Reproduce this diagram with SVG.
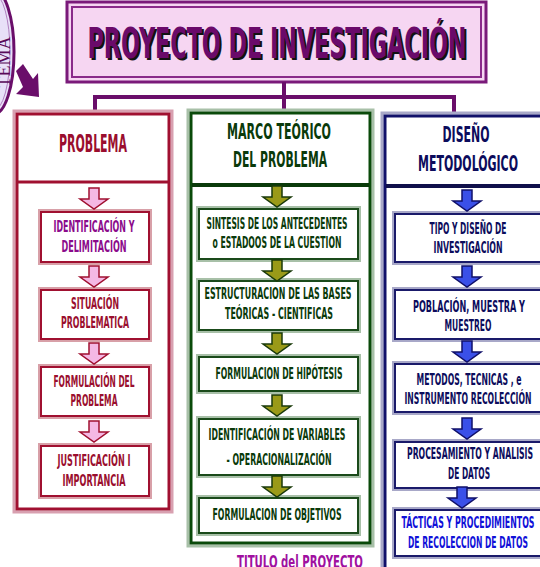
<svg xmlns="http://www.w3.org/2000/svg" width="540" height="567" viewBox="0 0 540 567">
<defs>
<style>
.t{font-family:"DejaVu Sans Condensed","DejaVu Sans",sans-serif;font-weight:bold;text-anchor:middle}
.s{font-size:16px}
.h{font-size:24px}
.red{fill:#9a0e2e}
.pur{fill:#8b0a8b}
.grn{fill:#0a3a0a}
.nav{fill:#0c0c5c}
.blu{fill:#1010d8}
.conn{stroke:#6a0e6a;stroke-width:4;fill:none}
.ibR{fill:#fff;stroke:#a01030;stroke-width:2}
.ibRo{fill:none;stroke:#d8a0a8;stroke-width:2}
.ibG{fill:#fff;stroke:#1a4a1a;stroke-width:2}
.ibGo{fill:none;stroke:#a8c0a8;stroke-width:2}
.ibB{fill:#fff;stroke:#1a1a6a;stroke-width:2}
.ibBo{fill:none;stroke:#a8a8c8;stroke-width:2}
.aR{fill:#f4b8e4;stroke:#a01030;stroke-width:1.5}
.aG{fill:#9a9a18;stroke:#1a3a0a;stroke-width:1.5}
.aB{fill:#3a50e8;stroke:#10106a;stroke-width:1.5}
</style>
<path id="arr" d="M-5,0 H5 V11 H14 L0,21 L-14,11 H-5 Z"/>
</defs>

<g id="tema">
<ellipse cx="-6" cy="52" rx="20" ry="62" fill="#e8e0f8" stroke="#6a0e6a" stroke-width="3"/>
<ellipse cx="-6" cy="52" rx="16" ry="58" fill="none" stroke="#b080c0" stroke-width="1"/>
<text transform="translate(10,62) rotate(-90)" font-family="Liberation Serif,serif" font-size="18" fill="#5a0a5a" text-anchor="middle">TEMA</text>
<polygon points="16,71 23,64 33,79 38,73 39,97 16,94 23,87" fill="#6a0e6a"/>
</g>

<g id="titulo">
<rect x="67" y="2" width="419" height="80" fill="#f6d6f2" stroke="#7a1a7a" stroke-width="3"/>
<rect x="72" y="7" width="409" height="70" fill="none" stroke="#8a2a8a" stroke-width="2"/>
<text x="279" y="60" class="t" font-size="42" fill="#111" textLength="379" lengthAdjust="spacingAndGlyphs">PROYECTO DE INVESTIGACIÓN</text>
<text x="277" y="58" class="t" font-size="42" fill="#6a0a6a" textLength="379" lengthAdjust="spacingAndGlyphs">PROYECTO DE INVESTIGACIÓN</text>
</g>

<g id="connectors">
<path class="conn" d="M284,82 V97 M95,97 H454 M95,95 V113 M284,97 V116 M454,95 V116"/>
</g>

<g id="problema">
<rect x="14" y="111" width="158" height="401" fill="#fff" stroke="#d8a0b0" stroke-width="3"/>
<rect x="17" y="114" width="152" height="395" fill="none" stroke="#a01030" stroke-width="3"/>
<line x1="18" y1="182" x2="168" y2="182" stroke="#a01030" stroke-width="3"/>
<text x="93" y="152" class="t h red" textLength="68" lengthAdjust="spacingAndGlyphs">PROBLEMA</text>
</g>
<g id="p1">
<rect x="39" y="210" width="112" height="54" class="ibRo"/><rect x="41" y="212" width="108" height="50" class="ibR"/>
<text x="94" y="232" class="t s pur" textLength="81" lengthAdjust="spacingAndGlyphs">IDENTIFICACIÓN Y</text>
<text x="94" y="252" class="t s pur" textLength="65" lengthAdjust="spacingAndGlyphs">DELIMITACIÓN</text>
</g>
<g id="p2">
<rect x="39" y="288" width="112" height="53" class="ibRo"/><rect x="41" y="290" width="108" height="49" class="ibR"/>
<text x="95" y="309" class="t s red" textLength="48" lengthAdjust="spacingAndGlyphs">SITUACIÓN</text>
<text x="95" y="328" class="t s red" textLength="68" lengthAdjust="spacingAndGlyphs">PROBLEMATICA</text>
</g>
<g id="p3">
<rect x="39" y="365" width="112" height="53" class="ibRo"/><rect x="41" y="367" width="108" height="49" class="ibR"/>
<text x="94" y="387" class="t s red" textLength="81" lengthAdjust="spacingAndGlyphs">FORMULACIÓN DEL</text>
<text x="94" y="406" class="t s red" textLength="47" lengthAdjust="spacingAndGlyphs">PROBLEMA</text>
</g>
<g id="p4">
<rect x="39" y="444" width="112" height="54" class="ibRo"/><rect x="41" y="446" width="108" height="50" class="ibR"/>
<text x="94" y="466" class="t s red" textLength="73" lengthAdjust="spacingAndGlyphs">JUSTIFICACIÓN I</text>
<text x="94" y="486" class="t s red" textLength="63" lengthAdjust="spacingAndGlyphs">IMPORTANCIA</text>
</g>
<g id="arrows-problema">
<use href="#arr" x="94" y="188" class="aR"/>
<use href="#arr" x="94" y="266" class="aR"/>
<use href="#arr" x="94" y="343" class="aR"/>
<use href="#arr" x="94" y="421" class="aR"/>
</g>

<g id="marco">
<rect x="188" y="110" width="185" height="436" fill="#fff" stroke="#a8c0a8" stroke-width="3"/>
<rect x="191" y="113" width="179" height="430" fill="none" stroke="#0a4a0a" stroke-width="3"/>
<line x1="192" y1="185" x2="369" y2="185" stroke="#0a3a0a" stroke-width="4"/>
<text x="279" y="139" class="t grn" font-size="21" textLength="104" lengthAdjust="spacingAndGlyphs">MARCO TEÓRICO</text>
<text x="280" y="167" class="t grn" font-size="21" textLength="94" lengthAdjust="spacingAndGlyphs">DEL PROBLEMA</text>
</g>
<g id="m1">
<rect x="197" y="207" width="163" height="54" class="ibGo"/><rect x="199" y="209" width="159" height="50" class="ibG"/>
<text x="277" y="229" class="t s grn" textLength="141" lengthAdjust="spacingAndGlyphs">SINTESIS DE LOS ANTECEDENTES</text>
<text x="277" y="248" class="t s grn" textLength="129" lengthAdjust="spacingAndGlyphs">o ESTADOOS DE LA CUESTION</text>
</g>
<g id="m2">
<rect x="197" y="279" width="163" height="53" class="ibGo"/><rect x="199" y="281" width="159" height="49" class="ibG"/>
<text x="278" y="299" class="t s grn" textLength="147" lengthAdjust="spacingAndGlyphs">ESTRUCTURACION  DE LAS BASES</text>
<text x="279" y="319" class="t s grn" textLength="108" lengthAdjust="spacingAndGlyphs">TEÓRICAS - CIENTIFICAS</text>
</g>
<g id="m3">
<rect x="197" y="355" width="163" height="38" class="ibGo"/><rect x="199" y="357" width="159" height="34" class="ibG"/>
<text x="279" y="379" class="t s grn" textLength="127" lengthAdjust="spacingAndGlyphs">FORMULACION DE HIPÓTESIS</text>
</g>
<g id="m4">
<rect x="197" y="417" width="163" height="60" class="ibGo"/><rect x="199" y="419" width="159" height="56" class="ibG"/>
<text x="277" y="440" class="t s grn" textLength="137" lengthAdjust="spacingAndGlyphs">IDENTIFICACIÓN DE VARIABLES</text>
<text x="279" y="465" class="t s grn" textLength="105" lengthAdjust="spacingAndGlyphs">- OPERACIONALIZACIÓN</text>
</g>
<g id="m5">
<rect x="197" y="496" width="163" height="39" class="ibGo"/><rect x="199" y="498" width="159" height="35" class="ibG"/>
<text x="277" y="520" class="t s grn" textLength="129" lengthAdjust="spacingAndGlyphs">FORMULACION DE OBJETIVOS</text>
</g>
<g id="arrows-marco">
<use href="#arr" x="277" y="186" class="aG"/>
<use href="#arr" x="277" y="260" class="aG"/>
<use href="#arr" x="277" y="333" class="aG"/>
<use href="#arr" x="277" y="395" class="aG"/>
<use href="#arr" x="277" y="476" class="aG"/>
</g>
<g id="titulo-proyecto">
<text x="300" y="568" class="t" font-size="17" textLength="126" lengthAdjust="spacingAndGlyphs" fill="#a010a0">TITULO del PROYECTO</text>
</g>

<g id="diseno">
<rect x="382" y="113" width="165" height="470" fill="#fff" stroke="#a8a8c8" stroke-width="3"/>
<rect x="385" y="116" width="159" height="464" fill="none" stroke="#10106a" stroke-width="3"/>
<line x1="386" y1="186" x2="544" y2="186" stroke="#10104a" stroke-width="4"/>
<text x="466" y="142" class="t nav" font-size="21" textLength="47" lengthAdjust="spacingAndGlyphs">DISEÑO</text>
<text x="468" y="171" class="t nav" font-size="21" textLength="100" lengthAdjust="spacingAndGlyphs">METODOLÓGICO</text>
</g>
<g id="d1">
<rect x="393" y="212" width="150" height="52" class="ibBo"/><rect x="395" y="214" width="150" height="48" class="ibB"/>
<text x="468" y="234" class="t s nav" textLength="77" lengthAdjust="spacingAndGlyphs">TIPO Y DISEÑO DE</text>
<text x="468" y="253" class="t s nav" textLength="69" lengthAdjust="spacingAndGlyphs">INVESTIGACIÓN</text>
</g>
<g id="d2">
<rect x="393" y="288" width="150" height="53" class="ibBo"/><rect x="395" y="290" width="150" height="49" class="ibB"/>
<text x="469" y="312" class="t s nav" textLength="112" lengthAdjust="spacingAndGlyphs">POBLACIÓN, MUESTRA  Y</text>
<text x="468" y="331" class="t s nav" textLength="47" lengthAdjust="spacingAndGlyphs">MUESTREO</text>
</g>
<g id="d3">
<rect x="393" y="362" width="150" height="52" class="ibBo"/><rect x="395" y="364" width="150" height="48" class="ibB"/>
<text x="469" y="385" class="t s nav" textLength="105" lengthAdjust="spacingAndGlyphs">METODOS, TECNICAS , e</text>
<text x="468" y="404" class="t s nav" textLength="127" lengthAdjust="spacingAndGlyphs">INSTRUMENTO RECOLECCIÓN</text>
</g>
<g id="d4">
<rect x="393" y="440" width="150" height="50" class="ibBo"/><rect x="395" y="442" width="150" height="46" class="ibB"/>
<text x="470" y="459" class="t s nav" textLength="126" lengthAdjust="spacingAndGlyphs">PROCESAMIENTO Y ANALISIS</text>
<text x="469" y="479" class="t s nav" textLength="42" lengthAdjust="spacingAndGlyphs">DE DATOS</text>
</g>
<g id="d5">
<rect x="393" y="508" width="150" height="50" class="ibBo"/><rect x="395" y="510" width="150" height="46" class="ibB"/>
<text x="468" y="528" class="t s blu" textLength="133" lengthAdjust="spacingAndGlyphs">TÁCTICAS Y PROCEDIMIENTOS</text>
<text x="468" y="548" class="t s blu" textLength="120" lengthAdjust="spacingAndGlyphs">DE RECOLECCION DE DATOS</text>
</g>
<g id="arrows-diseno">
<use href="#arr" x="467" y="190" class="aB"/>
<use href="#arr" x="467" y="266" class="aB"/>
<use href="#arr" x="467" y="341" class="aB"/>
<use href="#arr" x="467" y="418" class="aB"/>
<use href="#arr" x="462" y="487" class="aB"/>
</g>
</svg>
